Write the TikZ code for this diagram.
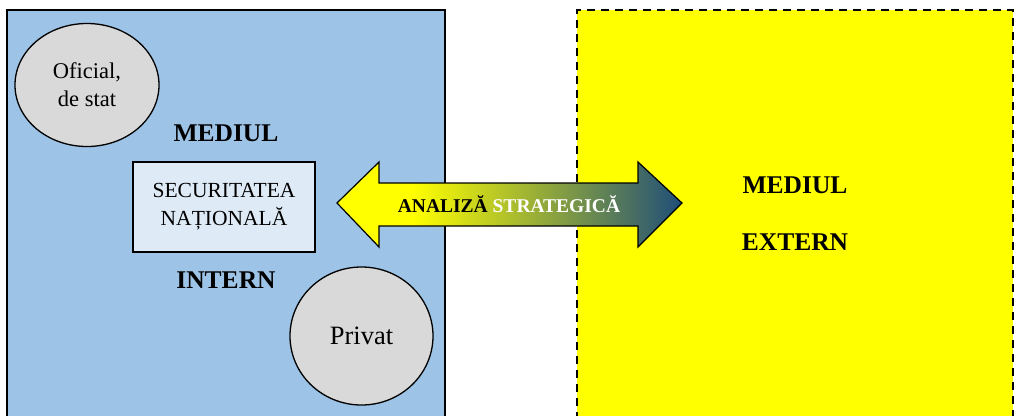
\documentclass[tikz,border=0pt]{standalone}
\usepackage{fontspec}
\setmainfont{Liberation Serif}
\usetikzlibrary{shapes.geometric}

\definecolor{envblue}{HTML}{9DC3E6}
\definecolor{envyellow}{HTML}{FFFF00}
\definecolor{circlegray}{HTML}{D9D9D9}
\definecolor{boxblue}{HTML}{DEEBF7}
\definecolor{arrowblue}{HTML}{1F4E79}

% yellow on the left, fading into dark blue towards the right tip
\pgfdeclarehorizontalshading{analysisshade}{100bp}{color(0bp)=(yellow); color(36bp)=(yellow); color(75bp)=(arrowblue); color(100bp)=(arrowblue)}

\tikzset{
  region/.style={anchor=north west, inner sep=0pt, outer sep=0pt},
  actor/.style={ellipse, draw=black, line width=1.3pt, fill=circlegray, inner sep=0pt, align=center},
  envlabel/.style={font=\bfseries\fontsize{25.5}{28}\selectfont, inner sep=0pt},
}

\begin{document}
\begin{tikzpicture}[x=1pt, y=-1pt]
\useasboundingbox (0,0) rectangle (1014,415);
\clip (0,0) rectangle (1014,415);

% internal environment
\node[region, draw=black, line width=1.8pt, fill=envblue,
      minimum width=438pt, minimum height=420pt] (intern) at (7,10) {};
% external environment
\node[region, draw=black, line width=1.5pt, dash pattern=on 8pt off 6pt,
      fill=envyellow, minimum width=436pt, minimum height=420pt] (extern) at (577,10) {};

% actors
\node[actor, minimum width=144pt, minimum height=123pt,
      font=\fontsize{22.5}{28}\selectfont] (oficial) at (87,85) {Oficial,\\de stat};
\node[actor, minimum width=143pt, minimum height=138pt,
      font=\fontsize{26.5}{30}\selectfont] (privat) at (361.5,336) {Privat};

% national security box
\node[draw=black, line width=1.3pt, fill=boxblue, minimum width=182pt, minimum height=90pt,
      inner sep=0pt, align=center, font=\fontsize{21.5}{28}\selectfont] (secnat) at (224,207)
      {SECURITATEA\\NAȚIONALĂ};

% labels
\node[envlabel] (mediulint) at (226,133) {MEDIUL};
\node[envlabel] (internlbl) at (226,280) {INTERN};
\node[envlabel] (mediulext) at (795,185) {MEDIUL};
\node[envlabel] (externlbl) at (795,242) {EXTERN};

% double arrow of strategic analysis
\coordinate (ltip) at (337,203);
\coordinate (rtip) at (682,203);
\shadedraw[shading=analysisshade, draw=black, line width=1.2pt, line join=miter]
  (ltip) -- (379,162) -- (379,183) -- (638,183) -- (638,162) -- (rtip)
  -- (638,247) -- (638,226) -- (379,226) -- (379,247) -- cycle;
\node[font=\bfseries\fontsize{19.5}{22}\selectfont, inner sep=0pt] (analysis) at (509,204)
  {ANALIZĂ \textcolor{white}{STRATEGICĂ}};
\end{tikzpicture}
\end{document}
